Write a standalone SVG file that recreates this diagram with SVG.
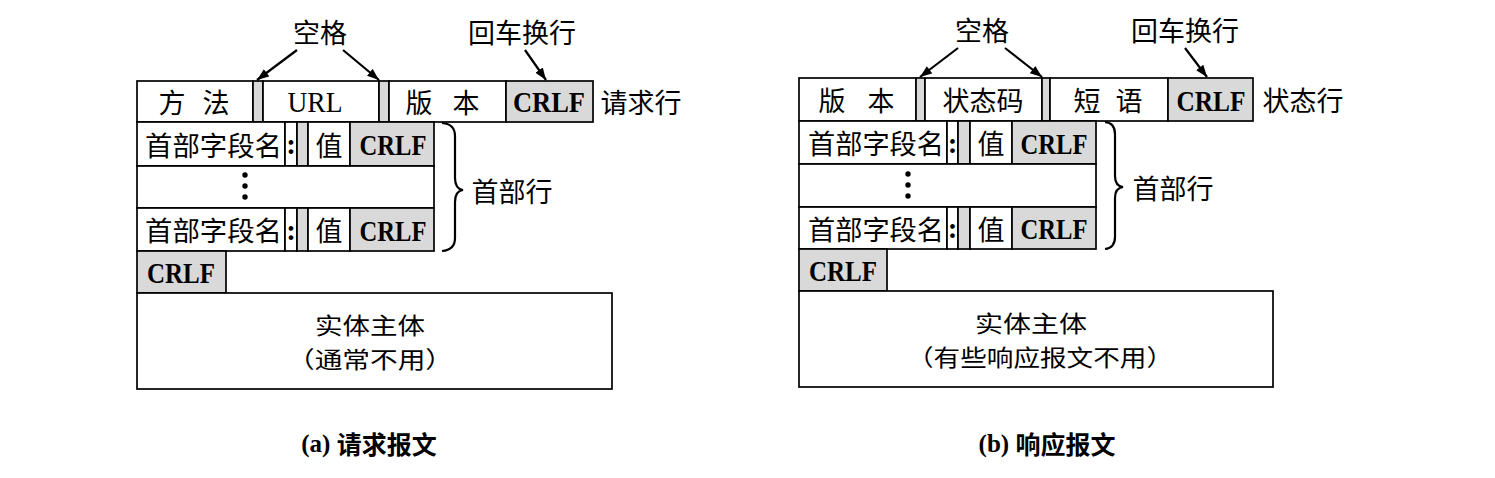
<svg xmlns="http://www.w3.org/2000/svg" width="1495" height="478" viewBox="0 0 1495 478">
<style>
.box{fill:#fff;stroke:#000;stroke-width:1.7}
.gray{fill:#d9d9d9;stroke:#000;stroke-width:1.7}
.cjk{font-family:"Noto Sans CJK SC","Noto Sans",sans-serif;font-size:27px;fill:#000;text-anchor:middle;dominant-baseline:central}
.body{font-family:"Noto Sans CJK SC","Noto Sans",sans-serif;font-size:23px;fill:#000;text-anchor:middle;dominant-baseline:central}
.ser{font-family:"Liberation Serif",serif;font-size:29px;fill:#000;text-anchor:middle;dominant-baseline:central}
.crlf{font-family:"Liberation Serif",serif;font-weight:bold;font-size:29px;fill:#000;text-anchor:middle;dominant-baseline:central}
.colon{font-family:"Liberation Serif",serif;font-weight:bold;font-size:29px;fill:#000;text-anchor:middle;dominant-baseline:central}
.cap{font-size:25px;font-weight:bold;fill:#000;text-anchor:middle;dominant-baseline:central}
.conn{stroke:#000;stroke-width:2.2;fill:none}
.dot{fill:#000}
</style>
<defs>
<marker id="ah" markerUnits="userSpaceOnUse" markerWidth="13" markerHeight="10" refX="12" refY="5" orient="auto">
<path d="M0,0.5 L12,5 L0,9.5 Z" fill="#000"/>
</marker>
</defs>

<!-- (a) request message -->
<g id="req-line">
<rect class="box" x="137" y="81" width="116" height="41"/>
<rect class="gray" x="253" y="81" width="10" height="41"/>
<rect class="box" x="263" y="81" width="116" height="41"/>
<rect class="gray" x="379" y="81" width="10" height="41"/>
<rect class="box" x="389" y="81" width="117" height="41"/>
<rect class="gray" x="506" y="81" width="87" height="41"/>
<text class="cjk" x="172" y="101.5">方</text>
<text class="cjk" x="216" y="101.5">法</text>
<text class="ser" x="315" y="102" textLength="55" lengthAdjust="spacingAndGlyphs">URL</text>
<text class="cjk" x="419" y="101.5">版</text>
<text class="cjk" x="466" y="101.5">本</text>
<text class="crlf" x="549" y="102" textLength="72" lengthAdjust="spacingAndGlyphs">CRLF</text>
<text class="cjk" x="641" y="101.5">请求行</text>
</g>
<g id="req-hdr1">
<rect class="box" x="137" y="122" width="148" height="44"/>
<rect class="box" x="285" y="122" width="12" height="44"/>
<rect class="gray" x="297" y="122" width="11" height="44"/>
<rect class="box" x="308" y="122" width="42" height="44"/>
<rect class="gray" x="350" y="122" width="84" height="44"/>
<text class="cjk" x="213.5" y="144" textLength="137" lengthAdjust="spacingAndGlyphs">首部字段名</text>
<text class="colon" x="291" y="144">:</text>
<text class="cjk" x="329" y="144">值</text>
<text class="crlf" x="393" y="145" textLength="67" lengthAdjust="spacingAndGlyphs">CRLF</text>
</g>
<g id="req-dots">
<rect class="box" x="137" y="166" width="297" height="42"/>
<circle class="dot" cx="245" cy="175" r="2.7"/>
<circle class="dot" cx="245" cy="186" r="2.7"/>
<circle class="dot" cx="245" cy="197" r="2.7"/>
</g>
<g id="req-hdr2">
<rect class="box" x="137" y="208" width="148" height="43"/>
<rect class="box" x="285" y="208" width="12" height="43"/>
<rect class="gray" x="297" y="208" width="11" height="43"/>
<rect class="box" x="308" y="208" width="42" height="43"/>
<rect class="gray" x="350" y="208" width="84" height="43"/>
<text class="cjk" x="213.5" y="229.5" textLength="137" lengthAdjust="spacingAndGlyphs">首部字段名</text>
<text class="colon" x="291" y="229.5">:</text>
<text class="cjk" x="329" y="229.5">值</text>
<text class="crlf" x="393" y="230.5" textLength="67" lengthAdjust="spacingAndGlyphs">CRLF</text>
</g>
<g id="req-crlf">
<rect class="gray" x="137" y="251" width="89" height="42"/>
<text class="crlf" x="181" y="273" textLength="68" lengthAdjust="spacingAndGlyphs">CRLF</text>
</g>
<g id="req-body">
<rect class="box" x="137" y="293" width="475" height="96"/>
<text class="body" x="370" y="324" textLength="110" lengthAdjust="spacingAndGlyphs">实体主体</text>
<text class="body" x="370" y="358" textLength="166" lengthAdjust="spacingAndGlyphs">（通常不用）</text>
</g>
<g id="req-labels">
<text class="cjk" x="320" y="31">空格</text>
<text class="cjk" x="522" y="31">回车换行</text>
<path class="conn" d="M442,123 Q455,124 455,136 L455,178 Q455,189 463,190 Q455,191 455,202 L455,238 Q455,250 442,251"/>
<text class="cjk" x="512" y="190">首部行</text>
<text class="cap" x="369" y="443"><tspan font-family="Liberation Serif, serif">(a) </tspan><tspan font-family="Noto Sans CJK SC, sans-serif">请求报文</tspan></text>
</g>

<!-- (b) response message -->
<g id="resp-line">
<rect class="box" x="799" y="78" width="117" height="43"/>
<rect class="gray" x="916" y="78" width="9" height="43"/>
<rect class="box" x="925" y="78" width="117" height="43"/>
<rect class="gray" x="1042" y="78" width="8" height="43"/>
<rect class="box" x="1050" y="78" width="118" height="43"/>
<rect class="gray" x="1168" y="78" width="85" height="43"/>
<text class="cjk" x="832" y="99.5">版</text>
<text class="cjk" x="881" y="99.5">本</text>
<text class="cjk" x="983" y="99.5">状态码</text>
<text class="cjk" x="1087" y="99.5">短</text>
<text class="cjk" x="1129" y="99.5">语</text>
<text class="crlf" x="1211" y="100.5" textLength="69" lengthAdjust="spacingAndGlyphs">CRLF</text>
<text class="cjk" x="1303" y="99.5">状态行</text>
</g>
<g id="resp-hdr1">
<rect class="box" x="799" y="121" width="148" height="43"/>
<rect class="box" x="947" y="121" width="11" height="43"/>
<rect class="gray" x="958" y="121" width="12" height="43"/>
<rect class="box" x="970" y="121" width="42" height="43"/>
<rect class="gray" x="1012" y="121" width="84" height="43"/>
<text class="cjk" x="876" y="142.5" textLength="136" lengthAdjust="spacingAndGlyphs">首部字段名</text>
<text class="colon" x="952.5" y="142.5">:</text>
<text class="cjk" x="991" y="142.5">值</text>
<text class="crlf" x="1054" y="143.5" textLength="67" lengthAdjust="spacingAndGlyphs">CRLF</text>
</g>
<g id="resp-dots">
<rect class="box" x="799" y="164" width="297" height="43"/>
<circle class="dot" cx="908" cy="174" r="2.7"/>
<circle class="dot" cx="908" cy="185" r="2.7"/>
<circle class="dot" cx="908" cy="196" r="2.7"/>
</g>
<g id="resp-hdr2">
<rect class="box" x="799" y="207" width="148" height="42"/>
<rect class="box" x="947" y="207" width="11" height="42"/>
<rect class="gray" x="958" y="207" width="12" height="42"/>
<rect class="box" x="970" y="207" width="42" height="42"/>
<rect class="gray" x="1012" y="207" width="84" height="42"/>
<text class="cjk" x="876" y="228" textLength="136" lengthAdjust="spacingAndGlyphs">首部字段名</text>
<text class="colon" x="952.5" y="228">:</text>
<text class="cjk" x="991" y="228">值</text>
<text class="crlf" x="1054" y="229" textLength="67" lengthAdjust="spacingAndGlyphs">CRLF</text>
</g>
<g id="resp-crlf">
<rect class="gray" x="799" y="249" width="88" height="42"/>
<text class="crlf" x="843" y="271" textLength="68" lengthAdjust="spacingAndGlyphs">CRLF</text>
</g>
<g id="resp-body">
<rect class="box" x="799" y="291" width="474" height="96"/>
<text class="body" x="1031" y="322" textLength="112" lengthAdjust="spacingAndGlyphs">实体主体</text>
<text class="body" x="1040" y="356" textLength="266" lengthAdjust="spacingAndGlyphs">（有些响应报文不用）</text>
</g>
<g id="resp-labels">
<text class="cjk" x="982" y="29">空格</text>
<text class="cjk" x="1185" y="29">回车换行</text>
<path class="conn" d="M1105,122 Q1115,123 1115,134 L1115,176 Q1115,186 1123,187 Q1115,188 1115,198 L1115,237 Q1115,248 1105,249"/>
<text class="cjk" x="1173" y="187">首部行</text>
<text class="cap" x="1047" y="443"><tspan font-family="Liberation Serif, serif">(b) </tspan><tspan font-family="Noto Sans CJK SC, sans-serif">响应报文</tspan></text>
</g>

<g id="connectors">
<line class="conn" x1="297" y1="50" x2="257" y2="80" marker-end="url(#ah)"/>
<line class="conn" x1="343" y1="50" x2="379" y2="80" marker-end="url(#ah)"/>
<line class="conn" x1="525" y1="50" x2="546" y2="80" marker-end="url(#ah)"/>
<line class="conn" x1="958" y1="48" x2="920" y2="77" marker-end="url(#ah)"/>
<line class="conn" x1="1005" y1="48" x2="1042" y2="77" marker-end="url(#ah)"/>
<line class="conn" x1="1185" y1="48" x2="1207" y2="77" marker-end="url(#ah)"/>
</g>
</svg>
